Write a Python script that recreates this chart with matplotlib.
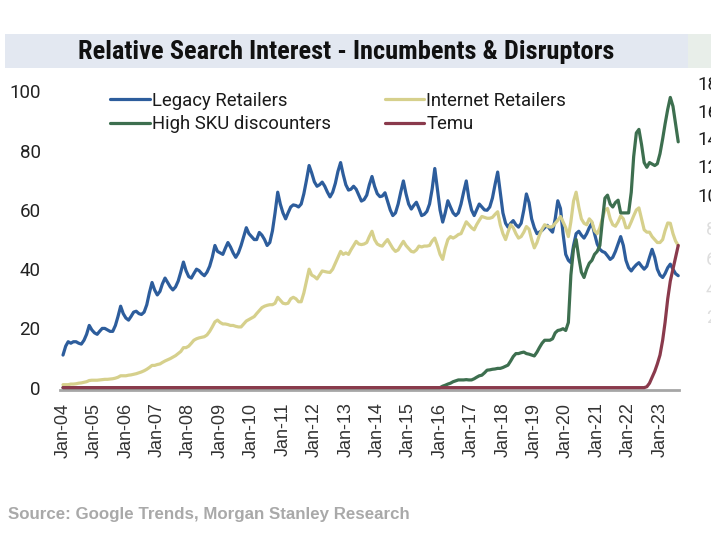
import matplotlib
matplotlib.use("Agg")
import matplotlib.pyplot as plt
import pandas as pd
from matplotlib import font_manager as fm
from matplotlib.patches import Rectangle

# ---------------- data (monthly, Jan-2004 .. Aug-2023) ----------------
legacy = [
    11, 14, 15.5, 15, 15.5, 15.5, 15, 14.7, 16, 18, 21, 19.5,          # 2004
    18.5, 18, 19, 20, 20, 19.5, 19, 19, 21, 24, 27.5, 25,              # 2005
    23.5, 22.8, 24, 25.5, 25.8, 25, 24.7, 25.5, 28, 32, 35.5, 33,      # 2006
    31.3, 32.5, 35, 37, 35.5, 34, 33, 34, 36, 39, 42.4, 39.5,          # 2007
    37.5, 37, 38.5, 40, 39.5, 38.5, 37.8, 39, 41, 44, 48, 46,          # 2008
    45.5, 45, 47, 49, 47.5, 45.5, 44, 45.5, 48, 51, 54, 52,            # 2009
    51, 50, 50, 52.4, 51.5, 50, 48, 49, 53, 59, 66, 62,                # 2010
    59, 57, 59, 61, 61.7, 61.5, 61, 62, 65.5, 70, 75, 72.5,            # 2011
    69.5, 68, 68.5, 69.4, 68, 66, 64.4, 66, 69, 73, 76, 72,            # 2012
    68.5, 66.7, 67, 68, 67, 65, 63, 63.5, 65, 68.5, 71.3, 68,          # 2013
    65.5, 64.5, 64.7, 65.8, 63, 60, 58.1, 59, 62, 66, 69.8, 65.5,      # 2014
    62, 60.3, 61.5, 62.6, 60.5, 58.1, 58.5, 59.5, 62, 67, 74, 67,      # 2015
    60, 55.9, 59, 63.1, 61, 59, 58.1, 59, 62, 66, 69.8, 64,            # 2016
    60, 58.1, 60, 62, 61, 60, 59.9, 61, 64, 68.5, 72.8, 66,            # 2017
    59, 55.5, 54.2, 55.5, 56.4, 55, 54.2, 55.5, 60, 65.4, 62.5, 57,    # 2018
    54, 52, 52.5, 53.1, 54, 54.8, 53.5, 52.5, 57, 63.1, 60.5, 52,      # 2019
    45, 43, 42.2, 48, 52, 52.8, 51.5, 50.5, 52, 54, 55.6, 52,          # 2020
    48.5, 46.7, 46, 45.6, 44.5, 43.3, 44, 46, 48.5, 51, 48, 43,        # 2021
    40.5, 39.4, 40.5, 41.5, 42.2, 41, 40, 41, 44, 46.7, 44, 40,        # 2022
    38, 37.2, 38.5, 40.5, 41.7, 40, 38.5, 37.8,                        # 2023
]
internet = [
    1, 1, 1, 1.2, 1.2, 1.3, 1.5, 1.6, 1.8, 2, 2.4, 2.5,                # 2004
    2.5, 2.5, 2.6, 2.7, 2.8, 2.8, 2.9, 3, 3.2, 3.5, 4, 4,              # 2005
    4, 4.2, 4.3, 4.5, 4.7, 5, 5.3, 5.7, 6.2, 6.8, 7.5, 7.5,            # 2006
    7.8, 8, 8.5, 9, 9.4, 9.8, 10.3, 10.8, 11.5, 12.2, 13.5, 13.5,      # 2007
    14, 15, 16, 16.5, 16.8, 17, 17.2, 17.8, 19, 20.5, 22.2, 22.8,      # 2008
    22, 21.5, 21.5, 21.3, 21, 21, 20.7, 20.5, 20.5, 21.5, 22.5, 23,    # 2009
    23.5, 24, 25, 26, 27, 27.5, 27.8, 28, 28, 28.5, 30.5, 29.5,        # 2010
    28.5, 28.3, 28.5, 30, 30.5, 30, 29, 29, 32, 36, 40, 38,            # 2011
    37.5, 36.7, 38, 39.4, 39.2, 39, 38.9, 40, 42, 44, 46, 45,          # 2012
    45.5, 45, 46.5, 48, 49.4, 48.5, 48.3, 48.5, 49, 51, 52.8, 50,      # 2013
    48.5, 48, 47.8, 49, 50, 48.5, 47, 46, 46.5, 48, 49.4, 48,          # 2014
    47, 46, 45.8, 46.5, 47.8, 47.5, 47.8, 47.8, 48, 49.5, 50.5, 48,    # 2015
    45, 43.3, 47, 50, 51, 50.5, 51, 51.7, 52, 54, 56, 55,              # 2016
    54, 53.3, 55, 56.5, 57.8, 57.5, 57.2, 57.2, 57.5, 58.5, 59.4, 55,  # 2017
    52, 50, 52.5, 55, 54, 52, 50.5, 51, 52.5, 54.4, 53.5, 50,          # 2018
    47.2, 49, 51.5, 53.5, 55, 54.5, 54.2, 54.4, 55.5, 56.5, 57.8, 56,  # 2019
    54, 51, 56, 63, 66, 61, 57, 55.5, 55, 57, 56, 53,                  # 2020
    52, 54, 57, 60, 60.5, 57, 55, 54.5, 56, 58, 57, 54,                # 2021
    54, 56, 58, 60, 60.7, 57, 53.3, 52.5, 52.5, 51, 50, 49,            # 2022
    49, 50, 53, 55.6, 55.5, 52, 49.5, 48,                              # 2023
]
high_sku = [
    0, 0, 0, 0, 0, 0, 0, 0, 0, 0, 0, 0,                                # 2004
    0, 0, 0, 0, 0, 0, 0, 0, 0, 0, 0, 0,                                # 2005
    0, 0, 0, 0, 0, 0, 0, 0, 0, 0, 0, 0,                                # 2006
    0, 0, 0, 0, 0, 0, 0, 0, 0, 0, 0, 0,                                # 2007
    0, 0, 0, 0, 0, 0, 0, 0, 0, 0, 0, 0,                                # 2008
    0, 0, 0, 0, 0, 0, 0, 0, 0, 0, 0, 0,                                # 2009
    0, 0, 0, 0, 0, 0, 0, 0, 0, 0, 0, 0,                                # 2010
    0, 0, 0, 0, 0, 0, 0, 0, 0, 0, 0, 0,                                # 2011
    0, 0, 0, 0, 0, 0, 0, 0, 0, 0, 0, 0,                                # 2012
    0, 0, 0, 0, 0, 0, 0, 0, 0, 0, 0, 0,                                # 2013
    0, 0, 0, 0, 0, 0, 0, 0, 0, 0, 0, 0,                                # 2014
    0, 0, 0, 0, 0, 0, 0, 0, 0, 0, 0, 0,                                # 2015
    0, 0.5, 0.8, 1.2, 1.5, 2, 2.3, 2.6, 2.6, 2.6, 2.7, 2.6,            # 2016
    2.6, 3, 3.5, 4, 4.2, 5, 5.9, 6, 6.2, 6.3, 6.5, 6.5,                # 2017
    6.8, 7.2, 7.6, 9, 10.5, 11.5, 11.5, 11.8, 12, 11.5, 11.3, 11,      # 2018
    10.7, 12, 13.5, 15, 16, 16, 16, 16.5, 18.5, 19.3, 19.5, 19.9,      # 2019
    19.3, 22, 38, 47, 50, 44, 39, 37.2, 40, 42, 43, 45,                # 2020
    46, 48, 56, 64, 65, 62, 61, 62.5, 63.3, 59, 59, 59,                # 2021
    59, 66, 78, 86, 87.2, 82, 76, 74.4, 76, 75.5, 75, 75.6,            # 2022
    79, 84, 89, 94, 98, 95, 89, 83,                                    # 2023
]
temu = [
    0, 0, 0, 0, 0, 0, 0, 0, 0, 0, 0, 0,                                # 2004
    0, 0, 0, 0, 0, 0, 0, 0, 0, 0, 0, 0,                                # 2005
    0, 0, 0, 0, 0, 0, 0, 0, 0, 0, 0, 0,                                # 2006
    0, 0, 0, 0, 0, 0, 0, 0, 0, 0, 0, 0,                                # 2007
    0, 0, 0, 0, 0, 0, 0, 0, 0, 0, 0, 0,                                # 2008
    0, 0, 0, 0, 0, 0, 0, 0, 0, 0, 0, 0,                                # 2009
    0, 0, 0, 0, 0, 0, 0, 0, 0, 0, 0, 0,                                # 2010
    0, 0, 0, 0, 0, 0, 0, 0, 0, 0, 0, 0,                                # 2011
    0, 0, 0, 0, 0, 0, 0, 0, 0, 0, 0, 0,                                # 2012
    0, 0, 0, 0, 0, 0, 0, 0, 0, 0, 0, 0,                                # 2013
    0, 0, 0, 0, 0, 0, 0, 0, 0, 0, 0, 0,                                # 2014
    0, 0, 0, 0, 0, 0, 0, 0, 0, 0, 0, 0,                                # 2015
    0, 0, 0, 0, 0, 0, 0, 0, 0, 0, 0, 0,                                # 2016
    0, 0, 0, 0, 0, 0, 0, 0, 0, 0, 0, 0,                                # 2017
    0, 0, 0, 0, 0, 0, 0, 0, 0, 0, 0, 0,                                # 2018
    0, 0, 0, 0, 0, 0, 0, 0, 0, 0, 0, 0,                                # 2019
    0, 0, 0, 0, 0, 0, 0, 0, 0, 0, 0, 0,                                # 2020
    0, 0, 0, 0, 0, 0, 0, 0, 0, 0, 0, 0,                                # 2021
    0, 0, 0, 0, 0, 0, 0, 0.3, 1.5, 3.5, 5.5, 8,                        # 2022
    11, 16, 22, 30, 36, 40, 44, 48,                                    # 2023
]
series_names = ["Legacy Retailers", "Internet Retailers", "High SKU discounters", "Temu"]
y_ticks = [0, 20, 40, 60, 80, 100]
tick_years = list(range(2004, 2024))
x_tick_labels = [f"Jan-{y % 100:02d}" for y in tick_years]
right_dark = ["180", "160", "140", "120", "100"]
right_faint = ["80", "60", "40", "20"]
title = "Relative Search Interest - Incumbents & Disruptors"
source = "Source: Google Trends, Morgan Stanley Research"

assert len(legacy) == len(internet) == len(high_sku) == len(temu) == 236

dates = pd.date_range("2004-01-01", periods=len(legacy), freq="MS")

# ---------------- figure ----------------
W, H = 711, 548
fig = plt.figure(figsize=(W / 100, H / 100), dpi=100)
fig.patch.set_facecolor("white")

def fx(px):
    return px / W

def fy(py):
    return 1 - py / H

names = {f.name for f in fm.fontManager.ttflist}
cond = next((n for n in ["Roboto Condensed", "Liberation Sans Narrow",
                         "DejaVu Sans Condensed"] if n in names), "DejaVu Sans")
num_font = ["Roboto", "DejaVu Sans"]
arial = ["Liberation Sans", "DejaVu Sans"]

# title banner
fig.add_artist(Rectangle((fx(5), fy(68.3)), fx(688) - fx(5), (68.3 - 34.3) / H,
                         transform=fig.transFigure, facecolor="#e3e8f1",
                         edgecolor="none", zorder=0))
fig.add_artist(Rectangle((fx(688), fy(68.3)), fx(711) - fx(688), (68.3 - 34.3) / H,
                         transform=fig.transFigure, facecolor="#e8eee9",
                         edgecolor="none", zorder=0))
t = fig.text(fx(346), fy(52), title, ha="center", va="center", fontsize=16,
             fontweight="bold", family=[cond, "DejaVu Sans"], color="#111111")

# axes
ax = fig.add_axes([fx(60), fy(390), fx(679) - fx(60), (390 - 91.5) / H])
ax.set_facecolor("none")
colors = {"Legacy Retailers": "#2d5d9c", "Internet Retailers": "#d6d08c",
          "High SKU discounters": "#3d6f4f", "Temu": "#8a3a4c"}
vals = {"Legacy Retailers": legacy, "Internet Retailers": internet,
        "High SKU discounters": high_sku, "Temu": temu}
lines = {}
for nm in series_names:
    (ln,) = ax.plot(dates, vals[nm], color=colors[nm], lw=2.3,
                    solid_joinstyle="round", solid_capstyle="round",
                    label=nm, clip_on=False)
    lines[nm] = ln

ax.set_xlim(pd.Timestamp("2003-11-27"), pd.Timestamp("2023-08-10"))
ax.set_ylim(-0.8, 100)
for s in ["top", "right", "left"]:
    ax.spines[s].set_visible(False)
ax.spines["bottom"].set_color("#a6a6a6")
ax.spines["bottom"].set_linewidth(2)
ax.spines["bottom"].set_zorder(1)

ax.set_yticks(y_ticks)
ax.set_yticklabels([str(v) for v in y_ticks], family=num_font, fontsize=13.5,
                   color="#222222")
ax.tick_params(axis="y", length=0, pad=14)
ax.set_xticks([pd.Timestamp(f"{y}-01-01") for y in tick_years])
ax.set_xticklabels(x_tick_labels, rotation=90, family=arial, fontsize=13,
                   color="#333333")
ax.tick_params(axis="x", length=0, pad=9)

leg = ax.legend([lines["Legacy Retailers"], lines["High SKU discounters"],
                 lines["Internet Retailers"], lines["Temu"]],
                ["Legacy Retailers", "High SKU discounters",
                 "Internet Retailers", "Temu"],
                ncol=2, loc="upper left", bbox_to_anchor=(fx(110), fy(91.5)),
                bbox_transform=fig.transFigure, frameon=False, borderpad=0,
                borderaxespad=0, handlelength=2.15, handletextpad=0.12,
                columnspacing=2.9, labelspacing=0.3,
                prop={"family": num_font, "size": 13.3})
for txt in leg.get_texts():
    txt.set_color("#1a1a1a")

# right-hand labels, cut off by the picture edge as in the reference
right_dark_y = [85, 113.3, 140, 168.3, 196.7]
for lab, py in zip(right_dark, right_dark_y):
    fig.text(fx(697), fy(py), lab, ha="left", va="center", family=num_font,
             fontsize=13.5, color="#222222")
right_faint_y = [230, 260, 290, 318]
for lab, py in zip(right_faint, right_faint_y):
    fig.text(fx(706), fy(py), lab, ha="left", va="center", family=num_font,
             fontsize=13.5, color="#dedede")

s = fig.text(fx(8), fy(515), source, ha="left", va="center", fontsize=11,
             fontweight="bold", family=arial, color="#a9a9a9")

# fit widths of title and source text to the reference
fig.canvas.draw()
r = fig.canvas.get_renderer()
bw = t.get_window_extent(r).width
t.set_fontsize(16 * 537 / bw)
sw = s.get_window_extent(r).width
s.set_fontsize(11 * 402 / sw)

fig.savefig("out.png", dpi=100, facecolor="white")
